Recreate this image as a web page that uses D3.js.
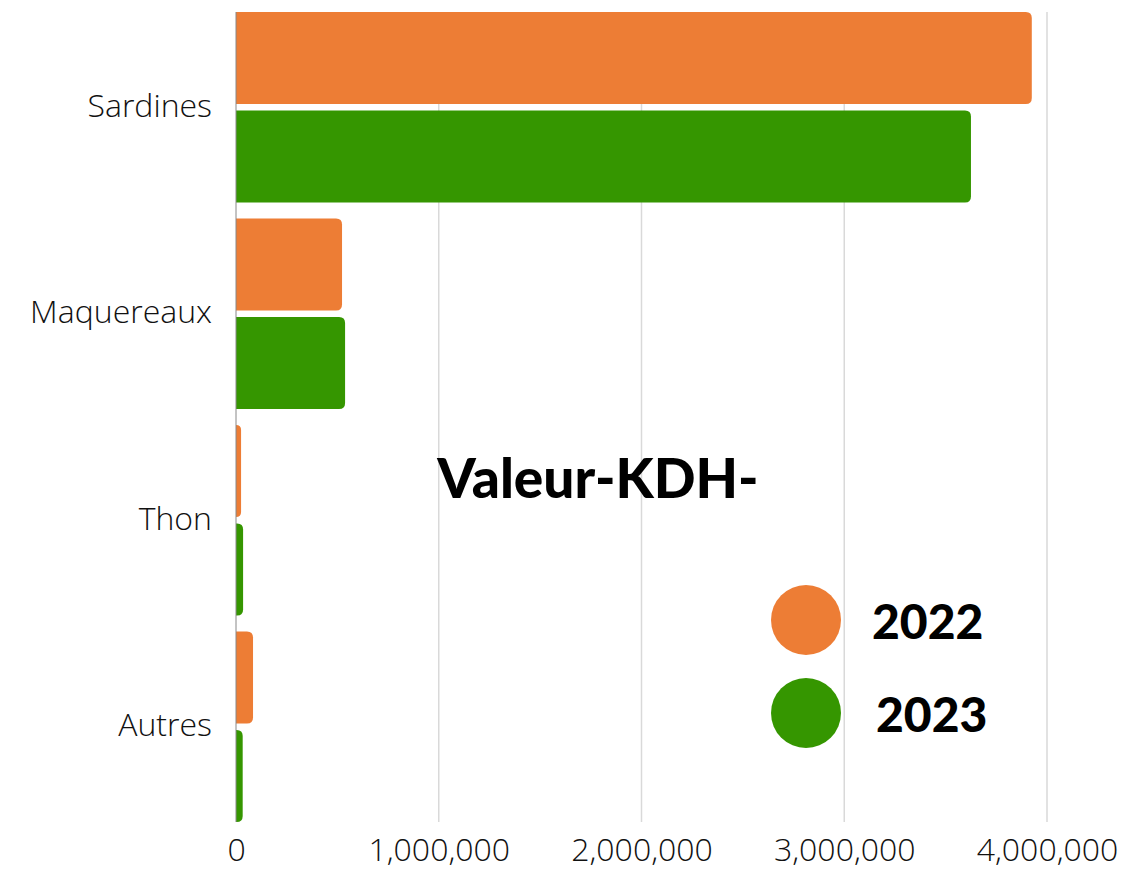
<!DOCTYPE html>
<html>
<head>
<meta charset="utf-8">
<script src="https://cdn.jsdelivr.net/npm/d3@7"></script>
<style>
	body { margin: 0; background: #fff; }
	svg { display: block; }
	.cat text, .x text { font-family: "Open Sans", sans-serif; font-weight: 300; fill: #111; }
</style>
</head>
<body>
<svg id="chart" width="1123" height="869"></svg>
<script>
const categories = ['Sardines', 'Maquereaux', 'Thon', 'Autres'];
const years = ['2022', '2023'];
const values2022 = [3925000, 523000, 25000, 84000];
const values2023 = [3625000, 538000, 35000, 33000];
const xTicks = [0, 1000000, 2000000, 3000000, 4000000];
const colors = ['#ED7D35', '#359600'];

const M = { left: 236, right: 1047, top: 12, bottom: 822 };

let svg = d3.select('#chart');

let x = d3.scaleLinear().domain([0, 4000000]).range([M.left, M.right]);
let y = d3.scaleBand().domain(categories).range([M.top, M.bottom + 16]).paddingInner(0).paddingOuter(0);
let sub = d3.scaleBand().domain(years).range([0, y.bandwidth() - 16]).paddingInner(0.065);

// gridlines
svg.append('g')
	.selectAll('line')
		.data(xTicks.slice(1))
	.enter().append('line')
		.attr('x1', d => x(d)).attr('x2', d => x(d))
		.attr('y1', M.top).attr('y2', M.bottom)
		.attr('stroke', '#d9d9d9')
		.attr('stroke-width', 1.5);

// bars with rounded right end
function barPath(x0, x1, y0, h, r) {
	let w = x1 - x0;
	r = Math.min(r, w, h / 2);
	return `M${x0},${y0}H${x1 - r}Q${x1},${y0} ${x1},${y0 + r}V${y0 + h - r}Q${x1},${y0 + h} ${x1 - r},${y0 + h}H${x0}Z`;
}

let rows = categories.map((c, i) => ({ cat: c, vals: [values2022[i], values2023[i]] }));

svg.append('g')
	.selectAll('g')
		.data(rows)
	.enter().append('g')
		.attr('transform', d => `translate(0,${y(d.cat)})`)
	.selectAll('path')
		.data(d => d.vals.map((v, j) => ({ v: v, yr: years[j], j: j })))
	.enter().append('path')
		.attr('d', d => barPath(x(0), x(d.v), sub(d.yr), sub.bandwidth(), 6))
		.attr('fill', d => colors[d.j]);

// vertical axis line
svg.append('line')
	.attr('x1', M.left).attr('x2', M.left)
	.attr('y1', M.top).attr('y2', M.bottom)
	.attr('stroke', '#888')
	.attr('stroke-width', 1);

// category labels
let yAxis = d3.axisLeft(y).tickSize(0).tickPadding(24);
svg.append('g')
	.attr('class', 'cat')
	.attr('transform', `translate(${M.left},-9)`)
	.call(yAxis)
	.call(g => g.select('.domain').remove())
	.selectAll('text')
		.attr('font-size', 32);

// x axis labels
let xAxis = d3.axisBottom(x).tickValues(xTicks).tickSize(0).tickPadding(16).tickFormat(d3.format(','));
svg.append('g')
	.attr('class', 'x')
	.attr('transform', `translate(0,${M.bottom})`)
	.call(xAxis)
	.call(g => g.select('.domain').remove())
	.selectAll('text')
		.attr('font-size', 32);

// title
svg.append('text')
	.attr('x', 598)
	.attr('y', 498)
	.attr('text-anchor', 'middle')
	.attr('font-family', 'Lato, sans-serif')
	.attr('font-weight', 900)
	.attr('font-size', 55)
	.attr('fill', '#000')
	.text('Valeur-KDH-');

// legend
let legend = svg.append('g')
	.selectAll('g')
		.data(years)
	.enter().append('g')
		.attr('transform', (d, i) => `translate(806,${620 + i * 93})`);
legend.append('circle')
	.attr('r', 35)
	.attr('fill', (d, i) => colors[i]);
legend.append('text')
	.attr('x', (d, i) => 66 + i * 4)
	.attr('y', 19)
	.attr('font-family', 'Lato, sans-serif')
	.attr('font-weight', 900)
	.attr('font-size', 48)
	.attr('fill', '#000')
	.text(d => d);
</script>
</body>
</html>
